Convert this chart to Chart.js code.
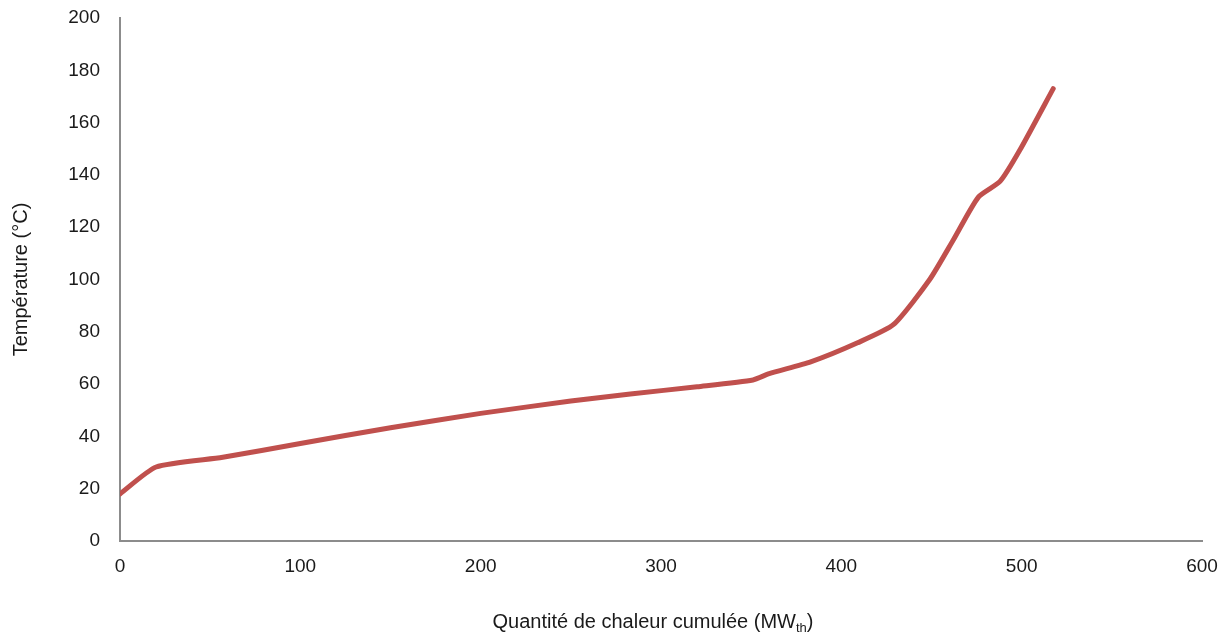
<!DOCTYPE html>
<html>
<head>
<meta charset="utf-8">
<script src="https://cdn.jsdelivr.net/npm/chart.js@4.4.1/dist/chart.umd.min.js"></script>
<style>
  html, body { margin: 0; padding: 0; background: #fff; }
  #wrap { width: 1227px; height: 634px; }
</style>
</head>
<body>
<div id="wrap"><canvas id="heat-chart"></canvas></div>
<script>
const heat = [0, 20, 57, 100, 150, 200, 250, 283, 320, 351, 360, 383, 409, 429, 449, 462, 476, 488, 499, 517.5];
const temperature = [18, 28.3, 32, 37.3, 43.3, 48.8, 53.5, 56.2, 59, 61.6, 64, 68.5, 75.8, 82.8, 100, 115, 131.5, 137.5, 149.5, 173];

const FONT = '"Liberation Sans", Arial, sans-serif';

// x title has a subscript, so draw it by hand
const xTitle = {
    id: 'xTitle',
    afterDraw(chart) {
        const ctx = chart.ctx;
        const main = 'Quantité de chaleur cumulée (MW';
        const sub = 'th';
        const end = ')';
        ctx.save();
        ctx.fillStyle = '#1a1a1a';
        ctx.textBaseline = 'alphabetic';
        ctx.font = '20px ' + FONT;
        const w1 = ctx.measureText(main).width;
        const w3 = ctx.measureText(end).width;
        ctx.font = '13px ' + FONT;
        const w2 = ctx.measureText(sub).width;
        const area = chart.chartArea;
        let x = (area.left + area.right) / 2 - (w1 + w2 + w3) / 2 - 8;
        const y = 628;
        ctx.font = '20px ' + FONT;
        ctx.fillText(main, x, y);
        x += w1;
        ctx.font = '13px ' + FONT;
        ctx.fillText(sub, x, y + 4);
        x += w2;
        ctx.font = '20px ' + FONT;
        ctx.fillText(end, x, y);
        ctx.restore();
    }
};

const data = {
    datasets: [{
        label: 'Température',
        data: heat.map((h, i) => ({ x: h, y: temperature[i] })),
        borderColor: '#c0504d',
        borderWidth: 5,
        pointRadius: 0,
        tension: 0.2,
        borderCapStyle: 'round',
        borderJoinStyle: 'round'
    }]
};

const config = {
    type: 'line',
    data: data,
    plugins: [xTitle],
    options: {
        responsive: true,
        maintainAspectRatio: false,
        animation: false,
        layout: { autoPadding: false, padding: { left: 0, top: 18, right: 25, bottom: 0 } },
        plugins: {
            legend: { display: false },
            tooltip: { enabled: false }
        },
        scales: {
            x: {
                type: 'linear',
                min: 0,
                max: 600,
                ticks: { stepSize: 100, padding: 14, color: '#1a1a1a', font: { family: FONT, size: 19 }, maxRotation: 0 },
                grid: { display: false, drawTicks: false },
                border: { display: true, color: '#8c8c8c', width: 2 },
                afterFit: s => { s.height = 93; s.paddingLeft = 0; s.paddingRight = 0; }
            },
            y: {
                min: 0,
                max: 200,
                ticks: { stepSize: 20, padding: 20, color: '#1a1a1a', font: { family: FONT, size: 19 } },
                grid: { display: false, drawTicks: false },
                border: { display: true, color: '#8c8c8c', width: 2 },
                title: {
                    display: true,
                    text: 'Température (°C)',
                    color: '#1a1a1a',
                    font: { family: FONT, size: 20 },
                    padding: { top: 9, bottom: 0 }
                },
                afterFit: s => { s.width = 120; s.paddingTop = 0; s.paddingBottom = 0; }
            }
        }
    }
};

let obj = document.getElementById('heat-chart');
let chart = new Chart(obj, config);
</script>
</body>
</html>
